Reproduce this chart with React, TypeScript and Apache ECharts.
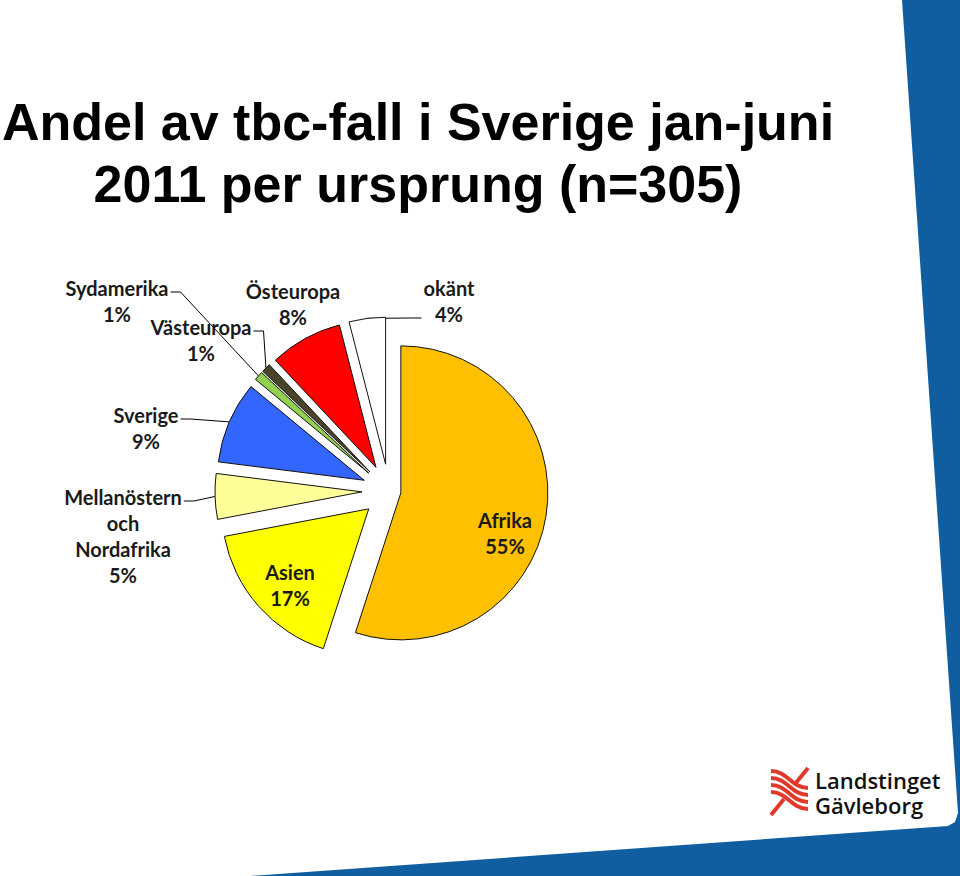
import React, { useEffect, useRef } from "react";
import * as echarts from "echarts";

// ---- data ----
const categories = [
  "Afrika",
  "Asien",
  "Mellanöstern och Nordafrika",
  "Sverige",
  "Sydamerika",
  "Västeuropa",
  "Östeuropa",
  "okänt",
];
const shares = [55, 17, 5, 9, 1, 1, 8, 4];
const sliceColors = ["#ffc000", "#ffff00", "#ffff99", "#3366ff", "#92d050", "#4a452a", "#ff0000", "#ffffff"];
const hasLeader = [false, false, true, true, true, true, false, true];
const titleLines = ["Andel av tbc-fall i Sverige jan-juni", "2011 per ursprung (n=305)"];
const logoLines = ["Landstinget", "Gävleborg"];

// layout only: label block centres, leader attachment side / line, slice explosion distances
const LABEL_POS: number[][] = [
  [505, 533],
  [290, 585],
  [123, 536],
  [146, 428],
  [117, 301],
  [201, 340],
  [293, 304],
  [449, 301],
];
const LEADER_SIDE = ["", "", "right", "right", "right", "right", "", "left"];
const LEADER_ROW = [0, 0, 0, 0, 0, 0, 0, 1];
const EXPLODE = [12, 27, 27, 27, 27, 27, 27, 27];
const CENTER = [389, 491];
const RADIUS = 147;
const LINE_H = 26;

function sliceSeries(k: number) {
  const total = shares.reduce((a, b) => a + b, 0);
  let before = 0;
  for (let i = 0; i < k; i++) before += shares[i];
  const mid = ((before + shares[k] / 2) / total) * 2 * Math.PI;
  const cx = CENTER[0] + EXPLODE[k] * Math.sin(mid);
  const cy = CENTER[1] - EXPLODE[k] * Math.cos(mid);
  const data = categories.map((name, i) => {
    const vis = i === k;
    return {
      name,
      value: shares[i],
      itemStyle: vis
        ? { color: sliceColors[i], borderColor: "#111", borderWidth: 1 }
        : { color: "rgba(0,0,0,0)", borderColor: "rgba(0,0,0,0)", borderWidth: 0 },
      label: { show: vis },
      labelLine: { show: vis && hasLeader[i] },
    };
  });
  return {
    type: "pie",
    name: categories[k],
    center: [cx, cy],
    radius: RADIUS,
    startAngle: 90,
    clockwise: true,
    avoidLabelOverlap: false,
    silent: true,
    emphasis: { disabled: true },
    data,
    label: {
      fontFamily: "Lato",
      fontSize: 20,
      fontWeight: "bold",
      color: "#1a1a1a",
      lineHeight: LINE_H,
      formatter: (p: any) => p.name.replace(" och ", "\noch\n") + "\n" + p.value + "%",
    },
    labelLine: {
      length: 10,
      length2: 10,
      lineStyle: { color: "#000", width: 1 },
    },
    labelLayout: (params: any) => {
      const i = params.dataIndex;
      const p = LABEL_POS[i];
      const res: any = { x: p[0], y: p[1], align: "center", verticalAlign: "middle" };
      const pts = params.labelLinePoints;
      const side = LEADER_SIDE[i];
      if (hasLeader[i] && side && pts && pts.length && params.labelRect) {
        const w = params.labelRect.width;
        const h = params.labelRect.height;
        const y = p[1] - h / 2 + LINE_H * LEADER_ROW[i] + LINE_H / 2 + 4;
        const xEdge = side === "right" ? p[0] + w / 2 + 2 : p[0] - w / 2 - 2;
        const xMid = side === "right" ? xEdge + 10 : xEdge - 10;
        res.labelLinePoints = [
          [pts[0][0], pts[0][1]],
          [xMid, y],
          [xEdge, y],
        ];
      }
      return res;
    },
  };
}

export default function App() {
  const ref = useRef<HTMLDivElement>(null);
  useEffect(() => {
    if (!ref.current) return;
    const chart = echarts.init(ref.current, null, { renderer: "svg" });
    const red = "#e2382a";
    const titleStyle = {
      fontFamily: "Liberation Sans",
      fontSize: 52,
      fontWeight: "bold",
      fill: "#000",
      align: "center",
      verticalAlign: "middle",
    };
    const option: any = {
      animation: false,
      backgroundColor: "#ffffff",
      graphic: [
        {
          type: "polygon",
          z: -10,
          shape: {
            points: [
              [902, 0],
              [960, 0],
              [960, 876],
              [250, 876],
              [948, 826],
              [955, 822],
              [958, 813],
            ],
          },
          style: { fill: "#105ea0" },
        },
        { type: "text", x: 418, y: 122, style: { ...titleStyle, text: titleLines[0] } },
        { type: "text", x: 418, y: 184, style: { ...titleStyle, text: titleLines[1] } },
        {
          type: "text",
          x: 815,
          y: 792,
          style: {
            text: logoLines.join("\n"),
            fontFamily: "Open Sans",
            fontSize: 22,
            fontWeight: 600,
            lineHeight: 25,
            fill: "#111",
            align: "left",
            verticalAlign: "middle",
          },
        },
        ...[0, 1, 2, 3].map((k) => ({
          type: "bezierCurve",
          shape: {
            x1: 771,
            y1: 771 + 7 * k,
            cpx1: 788,
            cpy1: 771 + 7 * k,
            cpx2: 791,
            cpy2: 788 + 7 * k,
            x2: 808,
            y2: 788 + 7 * k,
          },
          style: { stroke: red, lineWidth: 4, fill: null },
        })),
        { type: "line", shape: { x1: 808, y1: 768, x2: 795, y2: 784 }, style: { stroke: red, lineWidth: 4 } },
        { type: "line", shape: { x1: 784, y1: 799, x2: 771, y2: 815 }, style: { stroke: red, lineWidth: 4 } },
      ],
      series: categories.map((_, k) => sliceSeries(k)),
    };
    chart.setOption(option);
    return () => chart.dispose();
  }, []);
  return <div ref={ref} style={{ position: "fixed", left: 0, top: 0, width: 960, height: 876 }} />;
}
